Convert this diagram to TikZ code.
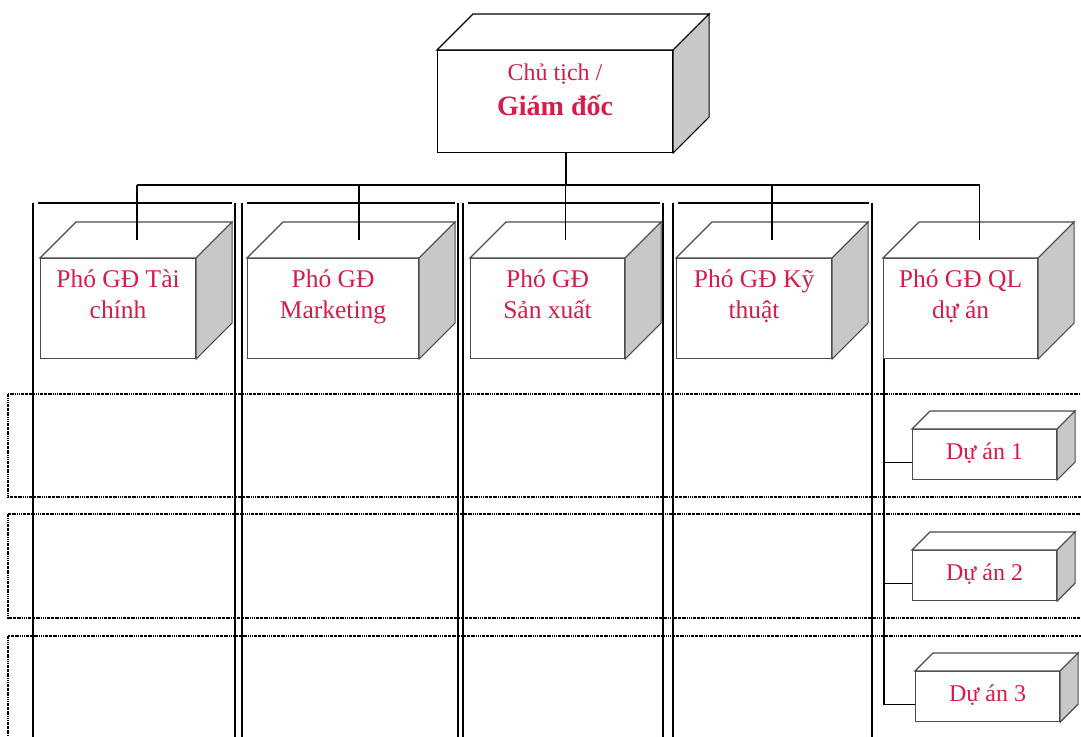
\documentclass[tikz,border=0pt]{standalone}
\usepackage{fontspec}
\setmainfont{Liberation Serif}
\usetikzlibrary{calc}

\definecolor{txtred}{RGB}{214,28,72}
\definecolor{sidegray}{RGB}{200,200,200}
\definecolor{edgegray}{RGB}{75,75,75}

% top and right faces of a box whose front face is node #1, depth #2
\newcommand{\drawcubesides}[3]{%
  \draw[#3, fill=white] (#1.north west) -- ($(#1.north west)+(#2,-#2)$)
    -- ($(#1.north east)+(#2,-#2)$) -- (#1.north east) -- cycle;
  \draw[#3, fill=sidegray] (#1.north east) -- ($(#1.north east)+(#2,-#2)$)
    -- ($(#1.south east)+(#2,-#2)$) -- (#1.south east) -- cycle;
}

\begin{document}
\begin{tikzpicture}[x=1pt, y=-1pt,
  front/.style={draw=#1, fill=white, line width=1.1pt, inner sep=0pt, anchor=north west},
  front/.default=edgegray,
  vptext/.style={text=txtred, font=\fontsize{25.5}{31}\selectfont, align=center, inner sep=0pt, anchor=base},
  prjtext/.style={text=txtred, font=\fontsize{24}{29}\selectfont, inner sep=0pt, anchor=base},
  conn/.style={draw=black, line width=1.2pt},
  frameline/.style={draw=black, line width=1.3pt},
  rowline/.style={draw=black, line width=1.1pt, dash pattern=on 1.6pt off 0.8pt on 0.6pt off 0.8pt}
]
\clip (0,0) rectangle (1081,736);
\fill[white] (0,0) rectangle (1081,736);

% dotted bands for the projects
\draw[rowline] (8,394) rectangle (1110,497);
\draw[rowline] (8,514) rectangle (1110,618);
\draw[rowline] (8,636) rectangle (1110,770);

% column frames
\foreach \l/\r in {33/235, 242/458, 463/663, 673/872}{
  \draw[frameline] (\l,745) -- (\l,203);
  \draw[frameline] ({\l+5},203) -- ({\r-3},203);
  \draw[frameline] (\r,203) -- (\r,745);
}

% president / director
\node[front=black, minimum width=235pt, minimum height=102pt] (top) at (437,50) {};
\drawcubesides{top}{36}{draw=black, line width=1.1pt}
\node[text=txtred, align=center, inner sep=0pt, anchor=base,
      font=\fontsize{24}{35}\selectfont] (toplabel) at ([yshift=-65pt]top.north)
  {Chủ tịch /\\{\fontsize{28}{35}\selectfont\bfseries Giám đốc}};

% vice directors
\node[front, minimum width=155pt, minimum height=100pt] (v1) at (40,258) {};
\node[front, minimum width=171pt, minimum height=100pt] (v2) at (247,258) {};
\node[front, minimum width=154pt, minimum height=100pt] (v3) at (470,258) {};
\node[front, minimum width=155pt, minimum height=100pt] (v4) at (676,258) {};
\node[front, minimum width=154pt, minimum height=100pt] (v5) at (883,258) {};
\foreach \n in {v1,v2,v3,v4,v5}{\drawcubesides{\n}{36}{draw=edgegray, line width=1.1pt}}

\node[vptext] (t1) at ([yshift=-60pt]v1.north) {Phó GĐ Tài\\chính};
\node[vptext] (t2) at ([yshift=-60pt]v2.north) {Phó GĐ\\Marketing};
\node[vptext] (t3) at ([yshift=-60pt]v3.north) {Phó GĐ\\Sản xuất};
\node[vptext] (t4) at ([yshift=-60pt]v4.north) {Phó GĐ Kỹ\\thuật};
\node[vptext] (t5) at ([yshift=-60pt]v5.north) {Phó GĐ QL\\dự án};

% projects
\node[front, minimum width=144pt, minimum height=50pt] (d1) at (912,429) {};
\node[front, minimum width=144pt, minimum height=50pt] (d2) at (912,550) {};
\node[front, minimum width=144pt, minimum height=50pt] (d3) at (915,671) {};
\foreach \n in {d1,d2,d3}{\drawcubesides{\n}{18}{draw=edgegray, line width=1.1pt}}
\node[prjtext] (p1) at ([yshift=21pt]d1.south) {Dự án 1};
\node[prjtext] (p2) at ([yshift=21pt]d2.south) {Dự án 2};
\node[prjtext] (p3) at ([yshift=21pt]d3.south) {Dự án 3};

% connectors: director to vice directors (drop points on the top faces)
\coordinate (busy) at (0,185);
\foreach \n/\o in {v1/1,v2/8,v3/0,v4/0,v5/1}{\coordinate (\n top) at ($(\n.north)+(18+\o,-18)$);}
\coordinate (hub) at ([xshift=11pt]top.south);
\draw[conn] (hub) -- (hub |- busy);
\draw[conn] (v1top |- busy) -- (v5top |- busy);
\foreach \n in {v1,v2,v3,v4,v5}{\draw[conn] (\n top |- busy) -- (\n top);}

% connectors: project vice director to projects
\coordinate (spine) at ([xshift=1pt]v5.south west);
\coordinate (b1) at ([yshift=-8pt]d1.west);
\coordinate (b2) at ([yshift=-8pt]d2.west);
\coordinate (b3) at ([yshift=-8pt]d3.west);
\draw[conn] (spine) |- (b3);
\draw[conn] (spine |- b1) -- (b1);
\draw[conn] (spine |- b2) -- (b2);
\end{tikzpicture}
\end{document}
